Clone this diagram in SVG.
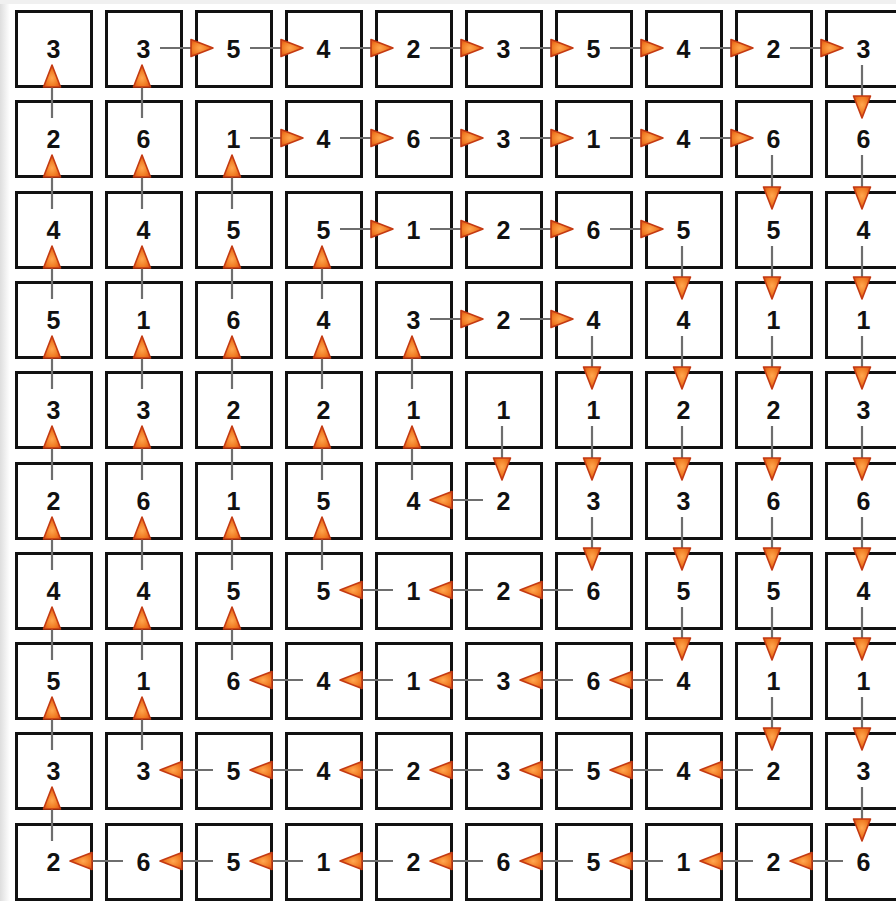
<svg xmlns="http://www.w3.org/2000/svg" width="896" height="901" viewBox="0 0 896 901">
<style>
.cell rect{fill:#fff;stroke:#111;stroke-width:3}
.cell text{font-family:"Liberation Sans",Arial,sans-serif;font-weight:bold;font-size:25px;fill:#111;text-anchor:middle}
#connectors line{stroke:#6e6e6e;stroke-width:2.2;marker-end:url(#ah)}
</style>
<defs>
<linearGradient id="bgl" x1="0" y1="0" x2="1" y2="0"><stop offset="0" stop-color="#dedede"/><stop offset="1" stop-color="#ffffff"/></linearGradient>
<radialGradient id="ag" cx="0.4" cy="0.5" r="0.6"><stop offset="0" stop-color="#ffa850"/><stop offset="0.6" stop-color="#f07a22"/><stop offset="1" stop-color="#d84c16"/></radialGradient>
<marker id="ah" markerUnits="userSpaceOnUse" markerWidth="26" markerHeight="22" viewBox="-3 -11 26 22" refX="0" refY="0" orient="auto"><path d="M-2,-8.5 L20,0 L-2,8.5 Z" fill="url(#ag)" stroke="#c43a12" stroke-width="1.6" stroke-linejoin="round"/></marker>
</defs>
<rect x="0" y="0" width="896" height="901" fill="#fff"/>
<rect x="0" y="0" width="10" height="901" fill="url(#bgl)"/>
<rect x="0" y="0" width="896" height="4" fill="#f0f0f0"/>
<g id="nodes">
<g id="n0_0" class="cell" transform="translate(15,10)"><rect x="1.5" y="1.5" width="75" height="75"/><text x="38.5" y="48">3</text></g>
<g id="n0_1" class="cell" transform="translate(105,10)"><rect x="1.5" y="1.5" width="75" height="75"/><text x="38.5" y="48">3</text></g>
<g id="n0_2" class="cell" transform="translate(195,10)"><rect x="1.5" y="1.5" width="75" height="75"/><text x="38.5" y="48">5</text></g>
<g id="n0_3" class="cell" transform="translate(285,10)"><rect x="1.5" y="1.5" width="75" height="75"/><text x="38.5" y="48">4</text></g>
<g id="n0_4" class="cell" transform="translate(375,10)"><rect x="1.5" y="1.5" width="75" height="75"/><text x="38.5" y="48">2</text></g>
<g id="n0_5" class="cell" transform="translate(465,10)"><rect x="1.5" y="1.5" width="75" height="75"/><text x="38.5" y="48">3</text></g>
<g id="n0_6" class="cell" transform="translate(555,10)"><rect x="1.5" y="1.5" width="75" height="75"/><text x="38.5" y="48">5</text></g>
<g id="n0_7" class="cell" transform="translate(645,10)"><rect x="1.5" y="1.5" width="75" height="75"/><text x="38.5" y="48">4</text></g>
<g id="n0_8" class="cell" transform="translate(735,10)"><rect x="1.5" y="1.5" width="75" height="75"/><text x="38.5" y="48">2</text></g>
<g id="n0_9" class="cell" transform="translate(825,10)"><rect x="1.5" y="1.5" width="75" height="75"/><text x="38.5" y="48">3</text></g>

<g id="n1_0" class="cell" transform="translate(15,100)"><rect x="1.5" y="1.5" width="75" height="75"/><text x="38.5" y="48">2</text></g>
<g id="n1_1" class="cell" transform="translate(105,100)"><rect x="1.5" y="1.5" width="75" height="75"/><text x="38.5" y="48">6</text></g>
<g id="n1_2" class="cell" transform="translate(195,100)"><rect x="1.5" y="1.5" width="75" height="75"/><text x="38.5" y="48">1</text></g>
<g id="n1_3" class="cell" transform="translate(285,100)"><rect x="1.5" y="1.5" width="75" height="75"/><text x="38.5" y="48">4</text></g>
<g id="n1_4" class="cell" transform="translate(375,100)"><rect x="1.5" y="1.5" width="75" height="75"/><text x="38.5" y="48">6</text></g>
<g id="n1_5" class="cell" transform="translate(465,100)"><rect x="1.5" y="1.5" width="75" height="75"/><text x="38.5" y="48">3</text></g>
<g id="n1_6" class="cell" transform="translate(555,100)"><rect x="1.5" y="1.5" width="75" height="75"/><text x="38.5" y="48">1</text></g>
<g id="n1_7" class="cell" transform="translate(645,100)"><rect x="1.5" y="1.5" width="75" height="75"/><text x="38.5" y="48">4</text></g>
<g id="n1_8" class="cell" transform="translate(735,100)"><rect x="1.5" y="1.5" width="75" height="75"/><text x="38.5" y="48">6</text></g>
<g id="n1_9" class="cell" transform="translate(825,100)"><rect x="1.5" y="1.5" width="75" height="75"/><text x="38.5" y="48">6</text></g>

<g id="n2_0" class="cell" transform="translate(15,191)"><rect x="1.5" y="1.5" width="75" height="75"/><text x="38.5" y="48">4</text></g>
<g id="n2_1" class="cell" transform="translate(105,191)"><rect x="1.5" y="1.5" width="75" height="75"/><text x="38.5" y="48">4</text></g>
<g id="n2_2" class="cell" transform="translate(195,191)"><rect x="1.5" y="1.5" width="75" height="75"/><text x="38.5" y="48">5</text></g>
<g id="n2_3" class="cell" transform="translate(285,191)"><rect x="1.5" y="1.5" width="75" height="75"/><text x="38.5" y="48">5</text></g>
<g id="n2_4" class="cell" transform="translate(375,191)"><rect x="1.5" y="1.5" width="75" height="75"/><text x="38.5" y="48">1</text></g>
<g id="n2_5" class="cell" transform="translate(465,191)"><rect x="1.5" y="1.5" width="75" height="75"/><text x="38.5" y="48">2</text></g>
<g id="n2_6" class="cell" transform="translate(555,191)"><rect x="1.5" y="1.5" width="75" height="75"/><text x="38.5" y="48">6</text></g>
<g id="n2_7" class="cell" transform="translate(645,191)"><rect x="1.5" y="1.5" width="75" height="75"/><text x="38.5" y="48">5</text></g>
<g id="n2_8" class="cell" transform="translate(735,191)"><rect x="1.5" y="1.5" width="75" height="75"/><text x="38.5" y="48">5</text></g>
<g id="n2_9" class="cell" transform="translate(825,191)"><rect x="1.5" y="1.5" width="75" height="75"/><text x="38.5" y="48">4</text></g>

<g id="n3_0" class="cell" transform="translate(15,281)"><rect x="1.5" y="1.5" width="75" height="75"/><text x="38.5" y="48">5</text></g>
<g id="n3_1" class="cell" transform="translate(105,281)"><rect x="1.5" y="1.5" width="75" height="75"/><text x="38.5" y="48">1</text></g>
<g id="n3_2" class="cell" transform="translate(195,281)"><rect x="1.5" y="1.5" width="75" height="75"/><text x="38.5" y="48">6</text></g>
<g id="n3_3" class="cell" transform="translate(285,281)"><rect x="1.5" y="1.5" width="75" height="75"/><text x="38.5" y="48">4</text></g>
<g id="n3_4" class="cell" transform="translate(375,281)"><rect x="1.5" y="1.5" width="75" height="75"/><text x="38.5" y="48">3</text></g>
<g id="n3_5" class="cell" transform="translate(465,281)"><rect x="1.5" y="1.5" width="75" height="75"/><text x="38.5" y="48">2</text></g>
<g id="n3_6" class="cell" transform="translate(555,281)"><rect x="1.5" y="1.5" width="75" height="75"/><text x="38.5" y="48">4</text></g>
<g id="n3_7" class="cell" transform="translate(645,281)"><rect x="1.5" y="1.5" width="75" height="75"/><text x="38.5" y="48">4</text></g>
<g id="n3_8" class="cell" transform="translate(735,281)"><rect x="1.5" y="1.5" width="75" height="75"/><text x="38.5" y="48">1</text></g>
<g id="n3_9" class="cell" transform="translate(825,281)"><rect x="1.5" y="1.5" width="75" height="75"/><text x="38.5" y="48">1</text></g>

<g id="n4_0" class="cell" transform="translate(15,371)"><rect x="1.5" y="1.5" width="75" height="75"/><text x="38.5" y="48">3</text></g>
<g id="n4_1" class="cell" transform="translate(105,371)"><rect x="1.5" y="1.5" width="75" height="75"/><text x="38.5" y="48">3</text></g>
<g id="n4_2" class="cell" transform="translate(195,371)"><rect x="1.5" y="1.5" width="75" height="75"/><text x="38.5" y="48">2</text></g>
<g id="n4_3" class="cell" transform="translate(285,371)"><rect x="1.5" y="1.5" width="75" height="75"/><text x="38.5" y="48">2</text></g>
<g id="n4_4" class="cell" transform="translate(375,371)"><rect x="1.5" y="1.5" width="75" height="75"/><text x="38.5" y="48">1</text></g>
<g id="n4_5" class="cell" transform="translate(465,371)"><rect x="1.5" y="1.5" width="75" height="75"/><text x="38.5" y="48">1</text></g>
<g id="n4_6" class="cell" transform="translate(555,371)"><rect x="1.5" y="1.5" width="75" height="75"/><text x="38.5" y="48">1</text></g>
<g id="n4_7" class="cell" transform="translate(645,371)"><rect x="1.5" y="1.5" width="75" height="75"/><text x="38.5" y="48">2</text></g>
<g id="n4_8" class="cell" transform="translate(735,371)"><rect x="1.5" y="1.5" width="75" height="75"/><text x="38.5" y="48">2</text></g>
<g id="n4_9" class="cell" transform="translate(825,371)"><rect x="1.5" y="1.5" width="75" height="75"/><text x="38.5" y="48">3</text></g>

<g id="n5_0" class="cell" transform="translate(15,462)"><rect x="1.5" y="1.5" width="75" height="75"/><text x="38.5" y="48">2</text></g>
<g id="n5_1" class="cell" transform="translate(105,462)"><rect x="1.5" y="1.5" width="75" height="75"/><text x="38.5" y="48">6</text></g>
<g id="n5_2" class="cell" transform="translate(195,462)"><rect x="1.5" y="1.5" width="75" height="75"/><text x="38.5" y="48">1</text></g>
<g id="n5_3" class="cell" transform="translate(285,462)"><rect x="1.5" y="1.5" width="75" height="75"/><text x="38.5" y="48">5</text></g>
<g id="n5_4" class="cell" transform="translate(375,462)"><rect x="1.5" y="1.5" width="75" height="75"/><text x="38.5" y="48">4</text></g>
<g id="n5_5" class="cell" transform="translate(465,462)"><rect x="1.5" y="1.5" width="75" height="75"/><text x="38.5" y="48">2</text></g>
<g id="n5_6" class="cell" transform="translate(555,462)"><rect x="1.5" y="1.5" width="75" height="75"/><text x="38.5" y="48">3</text></g>
<g id="n5_7" class="cell" transform="translate(645,462)"><rect x="1.5" y="1.5" width="75" height="75"/><text x="38.5" y="48">3</text></g>
<g id="n5_8" class="cell" transform="translate(735,462)"><rect x="1.5" y="1.5" width="75" height="75"/><text x="38.5" y="48">6</text></g>
<g id="n5_9" class="cell" transform="translate(825,462)"><rect x="1.5" y="1.5" width="75" height="75"/><text x="38.5" y="48">6</text></g>

<g id="n6_0" class="cell" transform="translate(15,552)"><rect x="1.5" y="1.5" width="75" height="75"/><text x="38.5" y="48">4</text></g>
<g id="n6_1" class="cell" transform="translate(105,552)"><rect x="1.5" y="1.5" width="75" height="75"/><text x="38.5" y="48">4</text></g>
<g id="n6_2" class="cell" transform="translate(195,552)"><rect x="1.5" y="1.5" width="75" height="75"/><text x="38.5" y="48">5</text></g>
<g id="n6_3" class="cell" transform="translate(285,552)"><rect x="1.5" y="1.5" width="75" height="75"/><text x="38.5" y="48">5</text></g>
<g id="n6_4" class="cell" transform="translate(375,552)"><rect x="1.5" y="1.5" width="75" height="75"/><text x="38.5" y="48">1</text></g>
<g id="n6_5" class="cell" transform="translate(465,552)"><rect x="1.5" y="1.5" width="75" height="75"/><text x="38.5" y="48">2</text></g>
<g id="n6_6" class="cell" transform="translate(555,552)"><rect x="1.5" y="1.5" width="75" height="75"/><text x="38.5" y="48">6</text></g>
<g id="n6_7" class="cell" transform="translate(645,552)"><rect x="1.5" y="1.5" width="75" height="75"/><text x="38.5" y="48">5</text></g>
<g id="n6_8" class="cell" transform="translate(735,552)"><rect x="1.5" y="1.5" width="75" height="75"/><text x="38.5" y="48">5</text></g>
<g id="n6_9" class="cell" transform="translate(825,552)"><rect x="1.5" y="1.5" width="75" height="75"/><text x="38.5" y="48">4</text></g>

<g id="n7_0" class="cell" transform="translate(15,642)"><rect x="1.5" y="1.5" width="75" height="75"/><text x="38.5" y="48">5</text></g>
<g id="n7_1" class="cell" transform="translate(105,642)"><rect x="1.5" y="1.5" width="75" height="75"/><text x="38.5" y="48">1</text></g>
<g id="n7_2" class="cell" transform="translate(195,642)"><rect x="1.5" y="1.5" width="75" height="75"/><text x="38.5" y="48">6</text></g>
<g id="n7_3" class="cell" transform="translate(285,642)"><rect x="1.5" y="1.5" width="75" height="75"/><text x="38.5" y="48">4</text></g>
<g id="n7_4" class="cell" transform="translate(375,642)"><rect x="1.5" y="1.5" width="75" height="75"/><text x="38.5" y="48">1</text></g>
<g id="n7_5" class="cell" transform="translate(465,642)"><rect x="1.5" y="1.5" width="75" height="75"/><text x="38.5" y="48">3</text></g>
<g id="n7_6" class="cell" transform="translate(555,642)"><rect x="1.5" y="1.5" width="75" height="75"/><text x="38.5" y="48">6</text></g>
<g id="n7_7" class="cell" transform="translate(645,642)"><rect x="1.5" y="1.5" width="75" height="75"/><text x="38.5" y="48">4</text></g>
<g id="n7_8" class="cell" transform="translate(735,642)"><rect x="1.5" y="1.5" width="75" height="75"/><text x="38.5" y="48">1</text></g>
<g id="n7_9" class="cell" transform="translate(825,642)"><rect x="1.5" y="1.5" width="75" height="75"/><text x="38.5" y="48">1</text></g>

<g id="n8_0" class="cell" transform="translate(15,732)"><rect x="1.5" y="1.5" width="75" height="75"/><text x="38.5" y="48">3</text></g>
<g id="n8_1" class="cell" transform="translate(105,732)"><rect x="1.5" y="1.5" width="75" height="75"/><text x="38.5" y="48">3</text></g>
<g id="n8_2" class="cell" transform="translate(195,732)"><rect x="1.5" y="1.5" width="75" height="75"/><text x="38.5" y="48">5</text></g>
<g id="n8_3" class="cell" transform="translate(285,732)"><rect x="1.5" y="1.5" width="75" height="75"/><text x="38.5" y="48">4</text></g>
<g id="n8_4" class="cell" transform="translate(375,732)"><rect x="1.5" y="1.5" width="75" height="75"/><text x="38.5" y="48">2</text></g>
<g id="n8_5" class="cell" transform="translate(465,732)"><rect x="1.5" y="1.5" width="75" height="75"/><text x="38.5" y="48">3</text></g>
<g id="n8_6" class="cell" transform="translate(555,732)"><rect x="1.5" y="1.5" width="75" height="75"/><text x="38.5" y="48">5</text></g>
<g id="n8_7" class="cell" transform="translate(645,732)"><rect x="1.5" y="1.5" width="75" height="75"/><text x="38.5" y="48">4</text></g>
<g id="n8_8" class="cell" transform="translate(735,732)"><rect x="1.5" y="1.5" width="75" height="75"/><text x="38.5" y="48">2</text></g>
<g id="n8_9" class="cell" transform="translate(825,732)"><rect x="1.5" y="1.5" width="75" height="75"/><text x="38.5" y="48">3</text></g>

<g id="n9_0" class="cell" transform="translate(15,823)"><rect x="1.5" y="1.5" width="75" height="75"/><text x="38.5" y="48">2</text></g>
<g id="n9_1" class="cell" transform="translate(105,823)"><rect x="1.5" y="1.5" width="75" height="75"/><text x="38.5" y="48">6</text></g>
<g id="n9_2" class="cell" transform="translate(195,823)"><rect x="1.5" y="1.5" width="75" height="75"/><text x="38.5" y="48">5</text></g>
<g id="n9_3" class="cell" transform="translate(285,823)"><rect x="1.5" y="1.5" width="75" height="75"/><text x="38.5" y="48">1</text></g>
<g id="n9_4" class="cell" transform="translate(375,823)"><rect x="1.5" y="1.5" width="75" height="75"/><text x="38.5" y="48">2</text></g>
<g id="n9_5" class="cell" transform="translate(465,823)"><rect x="1.5" y="1.5" width="75" height="75"/><text x="38.5" y="48">6</text></g>
<g id="n9_6" class="cell" transform="translate(555,823)"><rect x="1.5" y="1.5" width="75" height="75"/><text x="38.5" y="48">5</text></g>
<g id="n9_7" class="cell" transform="translate(645,823)"><rect x="1.5" y="1.5" width="75" height="75"/><text x="38.5" y="48">1</text></g>
<g id="n9_8" class="cell" transform="translate(735,823)"><rect x="1.5" y="1.5" width="75" height="75"/><text x="38.5" y="48">2</text></g>
<g id="n9_9" class="cell" transform="translate(825,823)"><rect x="1.5" y="1.5" width="75" height="75"/><text x="38.5" y="48">6</text></g>
</g>
<g id="connectors">
<line x1="502" y1="426" x2="502" y2="460"/>
<line x1="483" y1="500" x2="450" y2="500"/>
<line x1="412" y1="480" x2="412" y2="446"/>
<line x1="412" y1="389" x2="412" y2="356"/>
<line x1="430" y1="319" x2="463" y2="319"/>
<line x1="520" y1="319" x2="553" y2="319"/>
<line x1="592" y1="336" x2="592" y2="369"/>
<line x1="592" y1="426" x2="592" y2="460"/>
<line x1="592" y1="517" x2="592" y2="550"/>
<line x1="573" y1="590" x2="540" y2="590"/>
<line x1="483" y1="590" x2="450" y2="590"/>
<line x1="393" y1="590" x2="360" y2="590"/>
<line x1="322" y1="570" x2="322" y2="537"/>
<line x1="322" y1="480" x2="322" y2="446"/>
<line x1="322" y1="389" x2="322" y2="356"/>
<line x1="322" y1="299" x2="322" y2="266"/>
<line x1="340" y1="229" x2="373" y2="229"/>
<line x1="430" y1="229" x2="463" y2="229"/>
<line x1="520" y1="229" x2="553" y2="229"/>
<line x1="610" y1="229" x2="643" y2="229"/>
<line x1="682" y1="246" x2="682" y2="279"/>
<line x1="682" y1="336" x2="682" y2="369"/>
<line x1="682" y1="426" x2="682" y2="460"/>
<line x1="682" y1="517" x2="682" y2="550"/>
<line x1="682" y1="607" x2="682" y2="640"/>
<line x1="663" y1="680" x2="630" y2="680"/>
<line x1="573" y1="680" x2="540" y2="680"/>
<line x1="483" y1="680" x2="450" y2="680"/>
<line x1="393" y1="680" x2="360" y2="680"/>
<line x1="303" y1="680" x2="270" y2="680"/>
<line x1="232" y1="660" x2="232" y2="627"/>
<line x1="232" y1="570" x2="232" y2="537"/>
<line x1="232" y1="480" x2="232" y2="446"/>
<line x1="232" y1="389" x2="232" y2="356"/>
<line x1="232" y1="299" x2="232" y2="266"/>
<line x1="232" y1="209" x2="232" y2="175"/>
<line x1="250" y1="138" x2="283" y2="138"/>
<line x1="340" y1="138" x2="373" y2="138"/>
<line x1="430" y1="138" x2="463" y2="138"/>
<line x1="520" y1="138" x2="553" y2="138"/>
<line x1="610" y1="138" x2="643" y2="138"/>
<line x1="700" y1="138" x2="733" y2="138"/>
<line x1="772" y1="155" x2="772" y2="189"/>
<line x1="772" y1="246" x2="772" y2="279"/>
<line x1="772" y1="336" x2="772" y2="369"/>
<line x1="772" y1="426" x2="772" y2="460"/>
<line x1="772" y1="517" x2="772" y2="550"/>
<line x1="772" y1="607" x2="772" y2="640"/>
<line x1="772" y1="697" x2="772" y2="730"/>
<line x1="753" y1="770" x2="720" y2="770"/>
<line x1="663" y1="770" x2="630" y2="770"/>
<line x1="573" y1="770" x2="540" y2="770"/>
<line x1="483" y1="770" x2="450" y2="770"/>
<line x1="393" y1="770" x2="360" y2="770"/>
<line x1="303" y1="770" x2="270" y2="770"/>
<line x1="213" y1="770" x2="180" y2="770"/>
<line x1="142" y1="750" x2="142" y2="717"/>
<line x1="142" y1="660" x2="142" y2="627"/>
<line x1="142" y1="570" x2="142" y2="537"/>
<line x1="142" y1="480" x2="142" y2="446"/>
<line x1="142" y1="389" x2="142" y2="356"/>
<line x1="142" y1="299" x2="142" y2="266"/>
<line x1="142" y1="209" x2="142" y2="175"/>
<line x1="142" y1="118" x2="142" y2="85"/>
<line x1="160" y1="48" x2="193" y2="48"/>
<line x1="250" y1="48" x2="283" y2="48"/>
<line x1="340" y1="48" x2="373" y2="48"/>
<line x1="430" y1="48" x2="463" y2="48"/>
<line x1="520" y1="48" x2="553" y2="48"/>
<line x1="610" y1="48" x2="643" y2="48"/>
<line x1="700" y1="48" x2="733" y2="48"/>
<line x1="790" y1="48" x2="823" y2="48"/>
<line x1="862" y1="65" x2="862" y2="98"/>
<line x1="862" y1="155" x2="862" y2="189"/>
<line x1="862" y1="246" x2="862" y2="279"/>
<line x1="862" y1="336" x2="862" y2="369"/>
<line x1="862" y1="426" x2="862" y2="460"/>
<line x1="862" y1="517" x2="862" y2="550"/>
<line x1="862" y1="607" x2="862" y2="640"/>
<line x1="862" y1="697" x2="862" y2="730"/>
<line x1="862" y1="787" x2="862" y2="821"/>
<line x1="843" y1="861" x2="810" y2="861"/>
<line x1="753" y1="861" x2="720" y2="861"/>
<line x1="663" y1="861" x2="630" y2="861"/>
<line x1="573" y1="861" x2="540" y2="861"/>
<line x1="483" y1="861" x2="450" y2="861"/>
<line x1="393" y1="861" x2="360" y2="861"/>
<line x1="303" y1="861" x2="270" y2="861"/>
<line x1="213" y1="861" x2="180" y2="861"/>
<line x1="123" y1="861" x2="90" y2="861"/>
<line x1="52" y1="841" x2="52" y2="807"/>
<line x1="52" y1="750" x2="52" y2="717"/>
<line x1="52" y1="660" x2="52" y2="627"/>
<line x1="52" y1="570" x2="52" y2="537"/>
<line x1="52" y1="480" x2="52" y2="446"/>
<line x1="52" y1="389" x2="52" y2="356"/>
<line x1="52" y1="299" x2="52" y2="266"/>
<line x1="52" y1="209" x2="52" y2="175"/>
<line x1="52" y1="118" x2="52" y2="85"/>
</g>
</svg>
